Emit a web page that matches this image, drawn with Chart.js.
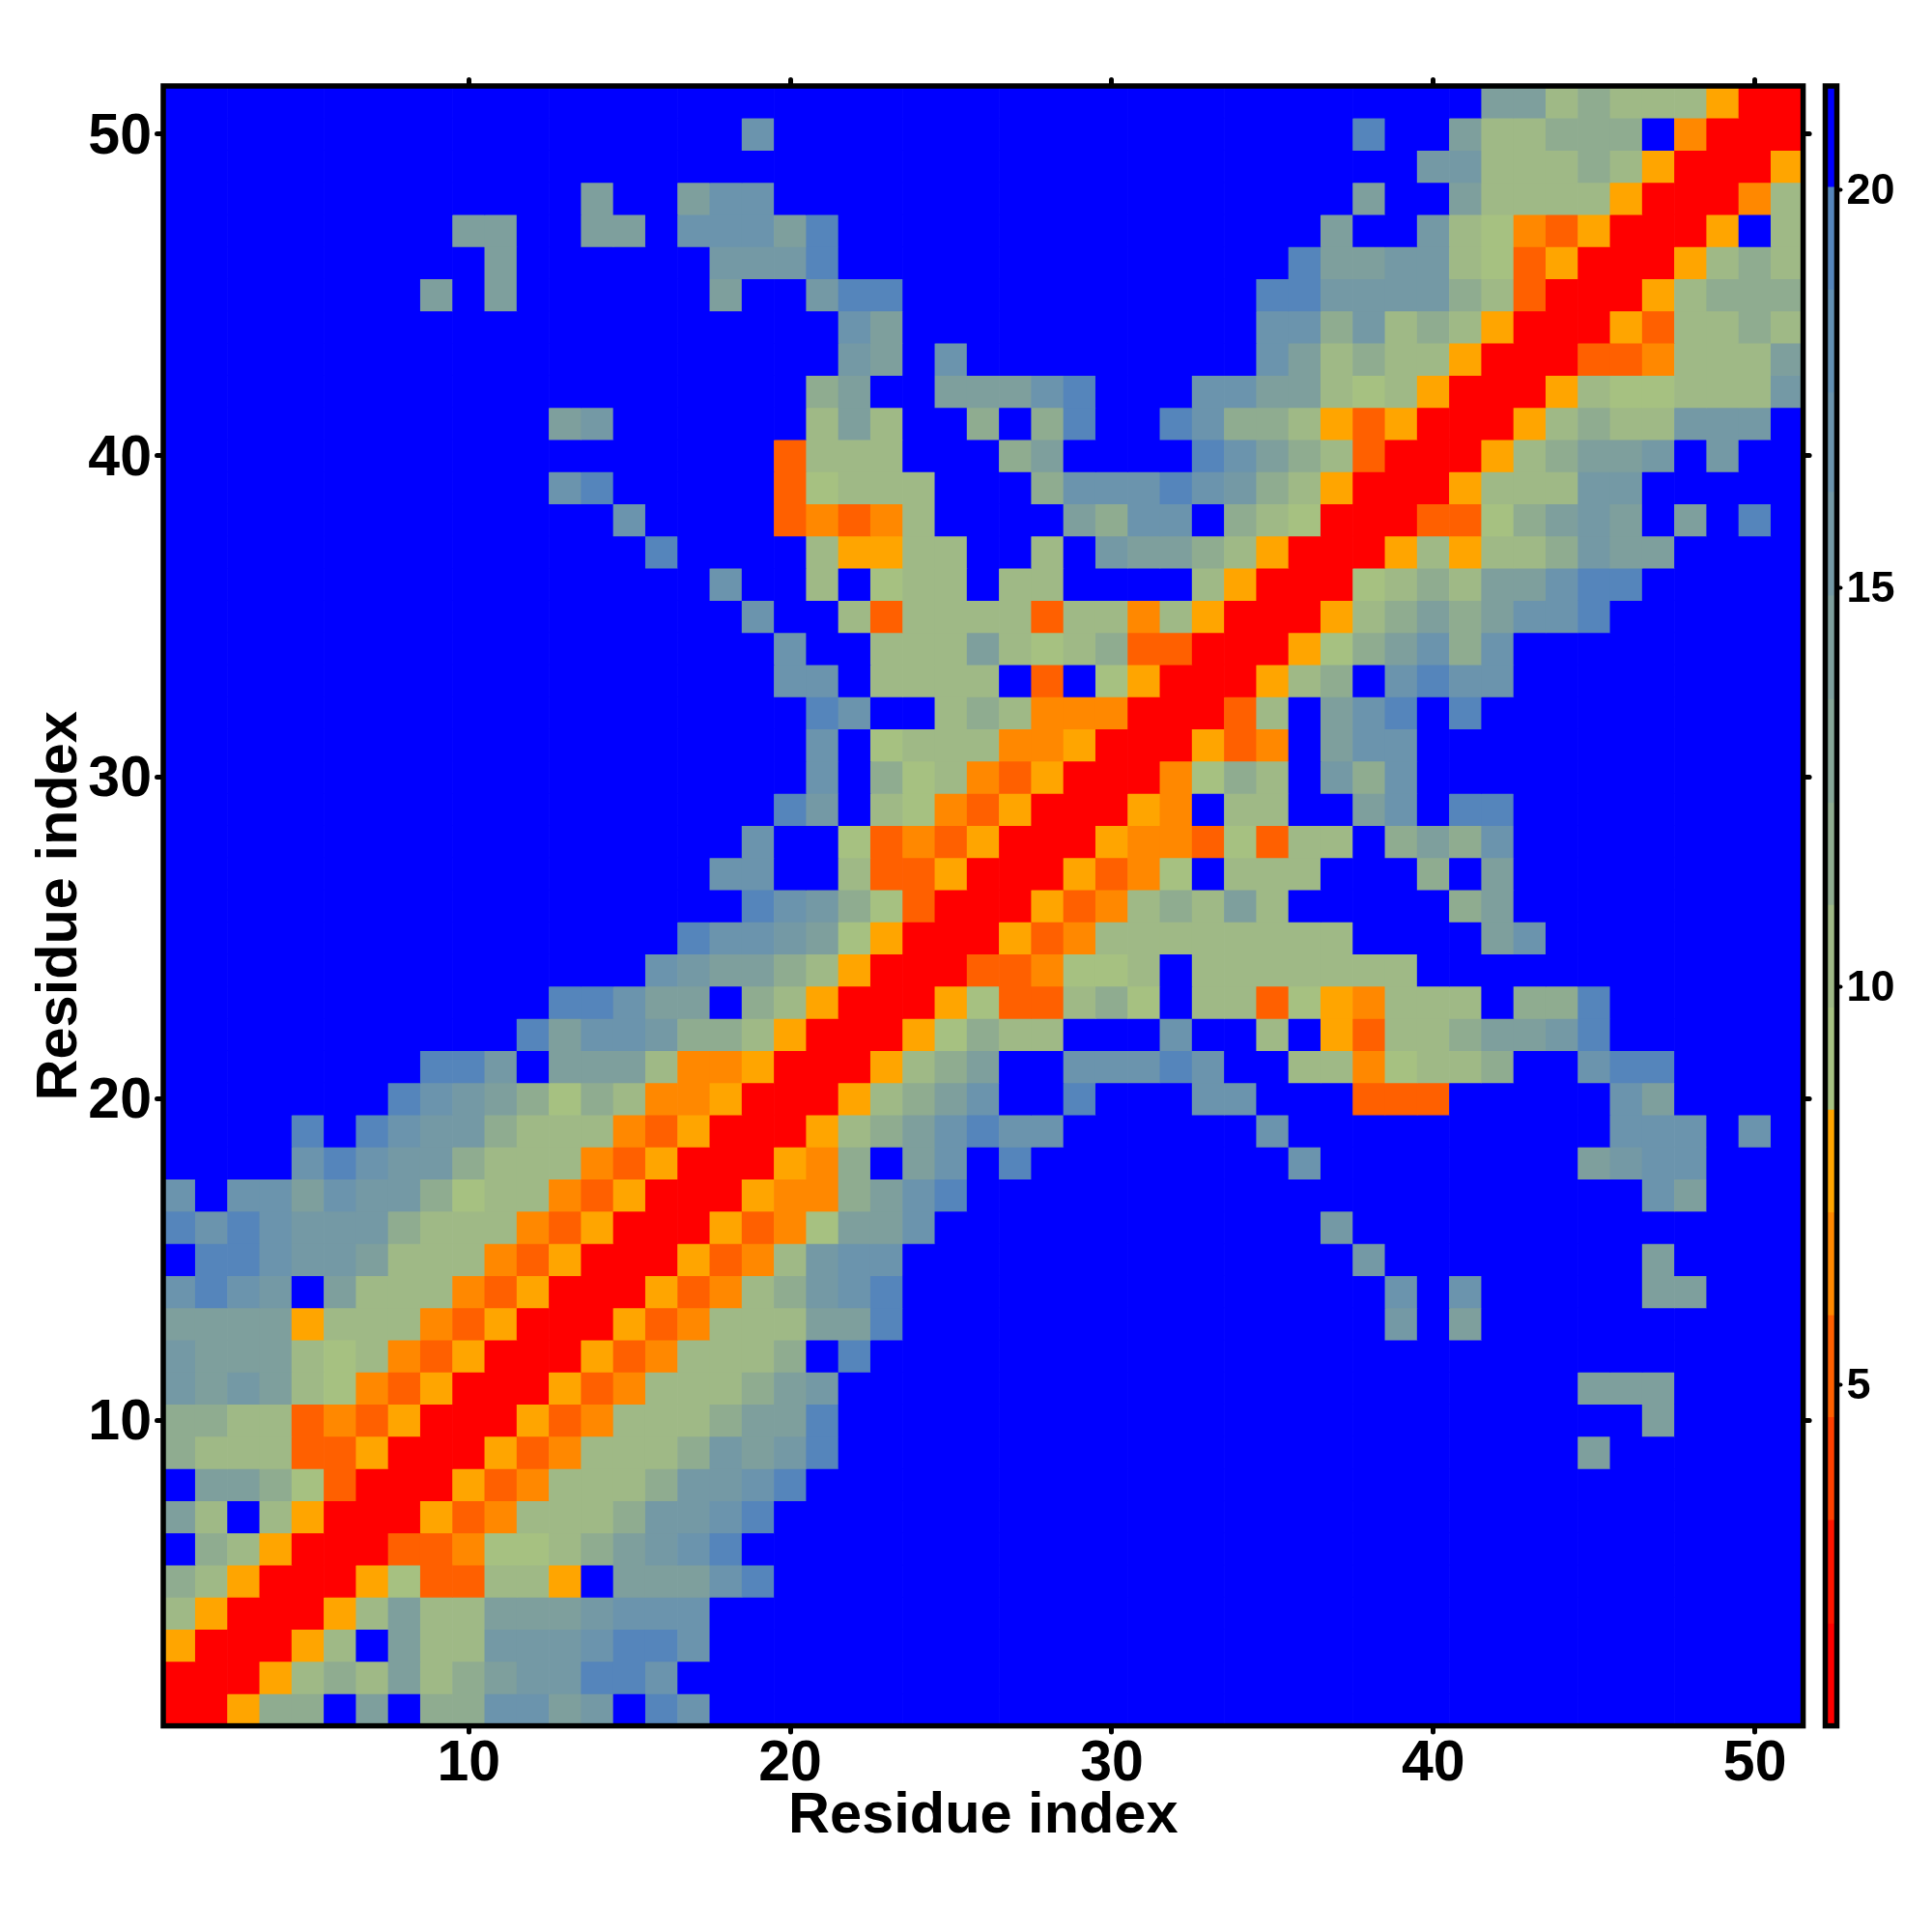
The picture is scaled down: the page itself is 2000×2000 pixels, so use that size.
<!DOCTYPE html>
<html>
<head>
<meta charset="utf-8">
<title>Residue distance map</title>
<script src="https://cdn.jsdelivr.net/npm/chart.js@4"></script>
<style>
  body { margin: 0; background: #fff; }
  #wrap { position: relative; width: 2000px; height: 2000px; }
  #map { position: absolute; left: 0; top: 0; }
  #bar { position: absolute; left: 1880px; top: 0; }
</style>
</head>
<body>
<div id="wrap">
  <canvas id="map" width="2000" height="2000"></canvas>
  <canvas id="bar" width="120" height="2000"></canvas>
</div>
<script>
// residue numbers along both axes
const residues = ['1','2','3','4','5','6','7','8','9','10','11','12','13','14','15','16','17','18','19','20','21','22','23','24','25','26','27','28','29','30','31','32','33','34','35','36','37','38','39','40','41','42','43','44','45','46','47','48','49','50','51'];
const residueTicks = [10, 20, 30, 40, 50];
const barTicks = [5, 10, 15, 20];

// colour bins of the scale bar, bottom to top
const binEdges = [0.72, 2.0, 3.3, 4.59, 5.87, 7.16, 8.45, 9.73, 11.02, 12.3, 13.6, 14.9, 16.2, 17.45, 18.74, 20.03, 21.3];
const binColors = ['#ff0000', '#ff1500', '#ff4000', '#ff6000', '#ff8800', '#ffa500', '#a6c181', '#9fb986', '#8fac90', '#86a697', '#7e9f9d', '#7499a5', '#6b94ad', '#6290b3', '#5585bb', '#0000ff'];

// distance per cell, first line is residue 51 (top of the map), last is residue 1
const distanceRows = [
  [21,21,21,21,21,21,21,21,21,21, 21,21,21,21,21,21,21,21,21,21, 21,21,21,21,21,21,21,21,21,21, 21,21,21,21,21,21,21,21,21,21, 21,14,14,10,12,10,10,10,8,1, 1],
  [21,21,21,21,21,21,21,21,21,21, 21,21,21,21,21,21,21,21,17,21, 21,21,21,21,21,21,21,21,21,21, 21,21,21,21,21,21,21,19,21,21, 14,10,10,12,12,12,21,6,1,1, 1],
  [21,21,21,21,21,21,21,21,21,21, 21,21,21,21,21,21,21,21,21,21, 21,21,21,21,21,21,21,21,21,21, 21,21,21,21,21,21,21,21,21,15, 15,10,10,10,12,10,8,1,1,1, 8],
  [21,21,21,21,21,21,21,21,21,21, 21,21,21,14,21,21,14,17,17,21, 21,21,21,21,21,21,21,21,21,21, 21,21,21,21,21,21,21,14,21,21, 14,10,10,10,10,8,1,1,1,6, 10],
  [21,21,21,21,21,21,21,21,21,14, 14,21,21,14,14,21,17,17,17,14, 19,21,21,21,21,21,21,21,21,21, 21,21,21,21,21,21,14,21,21,15, 10,9,6,5,8,1,1,1,8,21, 10],
  [21,21,21,21,21,21,21,21,21,21, 14,21,21,21,21,21,21,15,15,15, 19,21,21,21,21,21,21,21,21,21, 21,21,21,21,21,19,14,14,15,15, 10,9,5,8,1,1,1,8,10,12, 10],
  [21,21,21,21,21,21,21,21,14,21, 14,21,21,21,21,21,21,14,21,21, 15,19,19,21,21,21,21,21,21,21, 21,21,21,21,19,19,15,15,15,15, 12,10,5,1,1,1,8,10,12,12, 12],
  [21,21,21,21,21,21,21,21,21,21, 21,21,21,21,21,21,21,21,21,21, 21,17,14,21,21,21,21,21,21,21, 21,21,21,21,17,17,12,15,10,12, 10,8,1,1,1,8,5,10,10,12, 10],
  [21,21,21,21,21,21,21,21,21,21, 21,21,21,21,21,21,21,21,21,21, 21,15,14,21,17,21,21,21,21,21, 21,21,21,21,17,14,10,12,10,10, 8,1,1,1,5,5,6,10,10,10, 14],
  [21,21,21,21,21,21,21,21,21,21, 21,21,21,21,21,21,21,21,21,21, 12,14,21,21,14,14,14,17,19,21, 21,21,17,17,14,14,10,9,10,8, 1,1,1,8,10,9,9,10,10,10, 15],
  [21,21,21,21,21,21,21,21,21,21, 21,21,14,15,21,21,21,21,21,21, 10,14,10,21,21,12,21,12,19,21, 21,19,17,12,12,10,8,5,8,1, 1,1,8,10,12,10,10,15,15,15, 21],
  [21,21,21,21,21,21,21,21,21,21, 21,21,21,21,21,21,21,21,21,5, 10,10,10,21,21,21,12,14,21,21, 21,21,19,17,14,12,10,5,1,1, 1,8,10,12,14,14,15,21,15,21, 21],
  [21,21,21,21,21,21,21,21,21,21, 21,21,17,19,21,21,21,21,21,5, 9,10,10,10,21,21,21,12,17,17, 17,19,17,15,12,10,8,1,1,1, 8,10,10,10,15,15,21,21,21,21, 21],
  [21,21,21,21,21,21,21,21,21,21, 21,21,21,21,17,21,21,21,21,5, 6,5,6,10,21,21,21,21,14,12, 17,17,21,12,10,9,1,1,1,5, 5,9,12,14,15,14,21,14,21,19, 21],
  [21,21,21,21,21,21,21,21,21,21, 21,21,21,21,21,19,21,21,21,21, 10,8,8,10,10,21,21,10,21,15, 14,14,12,10,8,1,1,1,8,10, 8,10,10,12,15,14,14,21,21,21, 21],
  [21,21,21,21,21,21,21,21,21,21, 21,21,21,21,21,21,21,17,21,21, 10,21,9,10,10,21,10,10,21,21, 21,21,10,8,1,1,1,9,10,12, 10,14,14,17,19,19,21,21,21,21, 21],
  [21,21,21,21,21,21,21,21,21,21, 21,21,21,21,21,21,21,21,17,21, 21,10,5,10,10,10,10,5,10,10, 6,10,8,1,1,1,8,10,12,14, 12,14,17,17,19,21,21,21,21,21, 21],
  [21,21,21,21,21,21,21,21,21,21, 21,21,21,21,21,21,21,21,21,17, 21,21,10,10,10,14,10,9,10,12, 5,5,1,1,1,8,9,12,14,17, 12,17,21,21,21,21,21,21,21,21, 21],
  [21,21,21,21,21,21,21,21,21,21, 21,21,21,21,21,21,21,21,21,17, 17,21,10,10,10,10,21,5,21,9, 8,1,1,1,8,10,12,21,17,19, 17,17,21,21,21,21,21,21,21,21, 21],
  [21,21,21,21,21,21,21,21,21,21, 21,21,21,21,21,21,21,21,21,21, 19,17,21,21,10,12,10,6,6,6, 1,1,1,5,10,21,14,17,19,21, 19,21,21,21,21,21,21,21,21,21, 21],
  [21,21,21,21,21,21,21,21,21,21, 21,21,21,21,21,21,21,21,21,21, 17,21,9,10,10,10,6,6,8,1, 1,1,8,5,6,21,14,17,17,21, 21,21,21,21,21,21,21,21,21,21, 21],
  [21,21,21,21,21,21,21,21,21,21, 21,21,21,21,21,21,21,21,21,21, 17,21,12,9,10,6,5,8,1,1, 1,6,9,12,10,21,15,12,17,21, 21,21,21,21,21,21,21,21,21,21, 21],
  [21,21,21,21,21,21,21,21,21,21, 21,21,21,21,21,21,21,21,21,19, 15,21,10,9,6,5,8,1,1,1, 8,6,21,10,10,21,21,14,17,21, 19,19,21,21,21,21,21,21,21,21, 21],
  [21,21,21,21,21,21,21,21,21,21, 21,21,21,21,21,21,21,21,17,21, 21,9,5,6,5,8,1,1,1,8, 6,6,5,9,5,10,10,21,12,14, 12,17,21,21,21,21,21,21,21,21, 21],
  [21,21,21,21,21,21,21,21,21,21, 21,21,21,21,21,21,21,17,17,21, 21,10,5,5,8,1,1,1,8,5, 6,9,21,10,10,10,21,21,21,12, 21,14,21,21,21,21,21,21,21,21, 21],
  [21,21,21,21,21,21,21,21,21,21, 21,21,21,21,21,21,21,21,19,17, 15,12,9,5,1,1,1,8,5,6, 10,12,10,14,10,21,21,21,21,21, 12,14,21,21,21,21,21,21,21,21, 21],
  [21,21,21,21,21,21,21,21,21,21, 21,21,21,21,21,21,19,17,17,15, 14,9,8,1,1,1,8,5,6,10, 10,10,10,10,10,10,10,21,21,21, 21,14,17,21,21,21,21,21,21,21, 21],
  [21,21,21,21,21,21,21,21,21,21, 21,21,21,21,21,17,15,14,14,12, 10,8,1,1,1,5,5,6,9,9, 10,21,10,10,10,10,10,10,10,21, 21,21,21,21,21,21,21,21,21,21, 21],
  [21,21,21,21,21,21,21,21,21,21, 21,21,19,19,17,14,14,21,12,10, 8,1,1,1,8,9,5,5,10,12, 9,21,10,10,5,9,8,6,10,10, 10,21,12,12,19,21,21,21,21,21, 21],
  [21,21,21,21,21,21,21,21,21,21, 21,19,14,17,17,15,12,12,10,8, 1,1,1,8,9,12,10,10,21,21, 21,17,21,21,10,21,8,5,10,10, 12,14,14,15,19,21,21,21,21,21, 21],
  [21,21,21,21,21,21,21,21,19,19, 15,21,14,14,14,10,6,6,8,1, 1,1,8,10,12,14,21,21,17,17, 17,19,17,21,21,10,10,6,9,10, 10,12,21,21,17,19,19,21,21,21, 21],
  [21,21,21,21,21,21,21,19,17,15, 14,12,9,12,10,6,6,8,1,1, 1,8,10,12,14,17,21,21,19,21, 21,21,17,17,21,21,21,5,5,5, 21,21,21,21,21,17,14,21,21,21, 21],
  [21,21,21,21,19,21,19,17,15,15, 12,10,10,10,6,5,8,1,1,1, 8,10,12,14,17,19,17,17,21,21, 21,21,21,21,17,21,21,21,21,21, 21,21,21,21,21,17,17,17,21,17, 21],
  [21,21,21,21,17,19,17,15,15,12, 10,10,10,6,5,8,1,1,1,8, 6,12,21,14,17,21,19,21,21,21, 21,21,21,21,21,17,21,21,21,21, 21,21,21,21,14,15,17,17,21,21, 21],
  [17,21,17,17,14,17,15,15,12,9, 10,10,6,5,8,1,1,1,8,6, 6,12,14,17,19,21,21,21,21,21, 21,21,21,21,21,21,21,21,21,21, 21,21,21,21,21,21,17,14,21,21, 21],
  [19,17,19,17,15,15,15,12,10,10, 10,6,5,8,1,1,1,8,5,6, 9,14,14,17,21,21,21,21,21,21, 21,21,21,21,21,21,15,21,21,21, 21,21,21,21,21,21,21,21,21,21, 21],
  [21,19,19,17,15,15,14,10,10,10, 6,5,8,1,1,1,8,5,6,10, 15,17,17,21,21,21,21,21,21,21, 21,21,21,21,21,21,21,15,21,21, 21,21,21,21,21,21,14,21,21,21, 21],
  [17,19,17,15,21,14,10,10,10,6, 5,8,1,1,1,8,5,6,10,12, 15,17,19,21,21,21,21,21,21,21, 21,21,21,21,21,21,21,21,17,21, 17,21,21,21,21,21,14,14,21,21, 21],
  [14,14,14,14,8,10,10,10,6,5, 8,1,1,1,8,5,6,10,10,10, 14,14,19,21,21,21,21,21,21,21, 21,21,21,21,21,21,21,21,15,21, 14,21,21,21,21,21,21,21,21,21, 21],
  [15,14,14,14,10,9,10,6,5,8, 1,1,1,8,5,6,10,10,10,12, 21,19,21,21,21,21,21,21,21,21, 21,21,21,21,21,21,21,21,21,21, 21,21,21,21,21,21,21,21,21,21, 21],
  [15,14,15,14,10,9,6,5,8,1, 1,1,8,5,6,10,10,10,12,14, 15,21,21,21,21,21,21,21,21,21, 21,21,21,21,21,21,21,21,21,21, 21,21,21,21,14,14,14,21,21,21, 21],
  [12,12,10,10,5,6,5,8,1,1, 1,8,5,6,10,10,10,12,14,14, 19,21,21,21,21,21,21,21,21,21, 21,21,21,21,21,21,21,21,21,21, 21,21,21,21,21,21,14,21,21,21, 21],
  [12,10,10,10,5,5,8,1,1,1, 8,5,6,10,10,10,12,15,14,15, 19,21,21,21,21,21,21,21,21,21, 21,21,21,21,21,21,21,21,21,21, 21,21,21,21,14,21,21,21,21,21, 21],
  [21,14,14,12,9,5,1,1,1,8, 5,6,10,10,10,12,15,15,17,19, 21,21,21,21,21,21,21,21,21,21, 21,21,21,21,21,21,21,21,21,21, 21,21,21,21,21,21,21,21,21,21, 21],
  [14,10,21,10,8,1,1,1,8,5, 6,10,10,10,12,15,15,17,19,21, 21,21,21,21,21,21,21,21,21,21, 21,21,21,21,21,21,21,21,21,21, 21,21,21,21,21,21,21,21,21,21, 21],
  [21,12,10,8,1,1,1,5,5,6, 9,9,10,12,14,15,17,19,21,21, 21,21,21,21,21,21,21,21,21,21, 21,21,21,21,21,21,21,21,21,21, 21,21,21,21,21,21,21,21,21,21, 21],
  [12,10,8,1,1,1,8,9,5,5, 10,10,8,21,14,14,14,17,19,21, 21,21,21,21,21,21,21,21,21,21, 21,21,21,21,21,21,21,21,21,21, 21,21,21,21,21,21,21,21,21,21, 21],
  [10,8,1,1,1,8,10,14,10,10, 14,14,14,15,17,17,17,21,21,21, 21,21,21,21,21,21,21,21,21,21, 21,21,21,21,21,21,21,21,21,21, 21,21,21,21,21,21,21,21,21,21, 21],
  [8,1,1,1,8,10,21,14,10,10, 15,15,15,17,19,19,17,21,21,21, 21,21,21,21,21,21,21,21,21,21, 21,21,21,21,21,21,21,21,21,21, 21,21,21,21,21,21,21,21,21,21, 21],
  [1,1,1,8,10,12,10,14,10,12, 14,15,15,19,19,17,21,21,21,21, 21,21,21,21,21,21,21,21,21,21, 21,21,21,21,21,21,21,21,21,21, 21,21,21,21,21,21,21,21,21,21, 21],
  [1,1,8,12,12,21,14,21,12,12, 17,17,14,15,21,19,17,21,21,21, 21,21,21,21,21,21,21,21,21,21, 21,21,21,21,21,21,21,21,21,21, 21,21,21,21,21,21,21,21,21,21, 21]
];

const fontFamily = '"Liberation Sans", Arial, sans-serif';

function colorFor(value) {
  for (let i = 0; i < binColors.length; i++) {
    if (value < binEdges[i + 1]) return binColors[i];
  }
  return binColors[binColors.length - 1];
}

// round tick ends and a heavy box round the plot area
const framePlugin = {
  id: 'frame',
  beforeDraw(chart) {
    chart.ctx.lineCap = 'round';
  },
  afterDraw(chart) {
    const { ctx, chartArea: a } = chart;
    ctx.save();
    ctx.lineCap = 'butt';
    ctx.lineJoin = 'miter';
    ctx.lineWidth = 5.5;
    ctx.strokeStyle = '#000';
    ctx.strokeRect(a.left, a.top, a.right - a.left, a.bottom - a.top);
    ctx.restore();
  }
};

const tickGrid = {
  drawOnChartArea: false,
  offset: false,
  color: '#000',
  tickColor: '#000',
  tickWidth: 5,
  tickLength: 6.5
};

const keepResidueTicks = (axis) => {
  axis.ticks = axis.ticks.filter(t => residueTicks.includes(t.value + 1));
};
const setResidueTicks = (axis) => {
  axis.ticks = residueTicks.map(v => ({ value: v }));
};

new Chart(document.getElementById('map'), {
  type: 'bar',
  data: {
    labels: residues,
    datasets: distanceRows.map((row, i) => {
      const residue = distanceRows.length - i;
      return {
        label: 'Residue ' + residue,
        data: row.map(() => [residue - 0.5, residue + 0.5]),
        backgroundColor: row.map(colorFor),
        grouped: false,
        barPercentage: 1,
        categoryPercentage: 1,
        borderWidth: 0
      };
    })
  },
  options: {
    responsive: false,
    animation: false,
    devicePixelRatio: 1,
    layout: { padding: 0 },
    plugins: { legend: { display: false }, tooltip: { enabled: false } },
    scales: {
      x: {
        type: 'category',
        position: 'bottom',
        offset: true,
        grid: tickGrid,
        border: { display: false },
        afterBuildTicks: keepResidueTicks,
        afterFit: (s) => { s.height = 213.4; },
        ticks: {
          autoSkip: false,
          maxRotation: 0,
          color: '#000',
          padding: -2,
          font: { family: fontFamily, size: 59, weight: 'bold' }
        },
        title: {
          display: true,
          text: 'Residue index',
          color: '#000',
          padding: { top: 0, bottom: 84 },
          font: { family: fontFamily, size: 59.5, weight: 'bold' }
        }
      },
      x2: {
        type: 'category',
        position: 'top',
        labels: residues,
        offset: true,
        grid: tickGrid,
        border: { display: false },
        afterBuildTicks: keepResidueTicks,
        afterFit: (s) => { s.height = 89; },
        ticks: { display: false, autoSkip: false, maxRotation: 0 }
      },
      y: {
        type: 'linear',
        position: 'left',
        min: 0.5,
        max: 51.5,
        grid: tickGrid,
        border: { display: false },
        afterBuildTicks: setResidueTicks,
        afterFit: (s) => { s.width = 169; },
        ticks: {
          color: '#000',
          padding: 5.5,
          labelOffset: 3.5,
          callback: (v) => String(v),
          font: { family: fontFamily, size: 59, weight: 'bold' }
        },
        title: {
          display: true,
          text: 'Residue index',
          color: '#000',
          padding: { top: 27, bottom: 0 },
          font: { family: fontFamily, size: 59.5, weight: 'bold' }
        }
      },
      y2: {
        type: 'linear',
        position: 'right',
        min: 0.5,
        max: 51.5,
        grid: tickGrid,
        border: { display: false },
        afterBuildTicks: setResidueTicks,
        afterFit: (s) => { s.width = 133.4; },
        ticks: { display: false }
      }
    }
  },
  plugins: [framePlugin]
});

// scale bar on the right, one floating bar per colour bin
new Chart(document.getElementById('bar'), {
  type: 'bar',
  data: {
    labels: ['Distance'],
    datasets: binColors.map((color, i) => ({
      label: 'Bin ' + (i + 1),
      data: [[binEdges[i], binEdges[i + 1]]],
      backgroundColor: color,
      grouped: false,
      barPercentage: 1,
      categoryPercentage: 1,
      borderWidth: 0
    }))
  },
  options: {
    responsive: false,
    animation: false,
    devicePixelRatio: 1,
    layout: { padding: { left: 9.5, top: 89, bottom: 213.4 } },
    plugins: { legend: { display: false }, tooltip: { enabled: false } },
    scales: {
      x: { type: 'category', display: false, offset: true },
      y: {
        type: 'linear',
        position: 'right',
        min: binEdges[0],
        max: binEdges[binEdges.length - 1],
        grid: { drawOnChartArea: false, color: '#000', tickColor: '#000', tickWidth: 4, tickLength: 4 },
        border: { display: false },
        afterBuildTicks: (axis) => { axis.ticks = barTicks.map(v => ({ value: v })); },
        afterFit: (s) => { s.width = 98.5; },
        ticks: {
          color: '#000',
          padding: 6,
          labelOffset: 2,
          callback: (v) => String(v),
          font: { family: fontFamily, size: 45, weight: 'bold' }
        }
      }
    }
  },
  plugins: [framePlugin]
});
</script>
</body>
</html>
